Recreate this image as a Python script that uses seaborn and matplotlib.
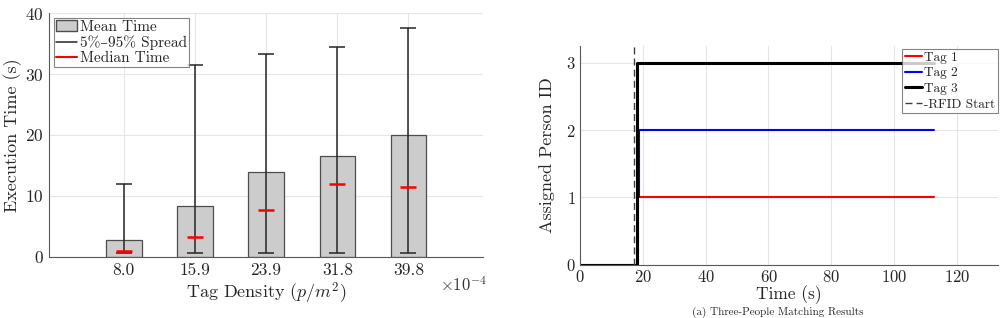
import numpy as np
import pandas as pd
import seaborn as sns
from matplotlib import pyplot as plt
from matplotlib.patches import Patch
from matplotlib.lines import Line2D

# left chart: execution time vs tag density
densities = ["8.0", "15.9", "23.9", "31.8", "39.8"]
mean_time = [2.8, 8.4, 14.0, 16.6, 20.0]
p5_time = [0.6, 0.7, 0.7, 0.7, 0.7]
p95_time = [11.9, 31.4, 33.3, 34.4, 37.5]
median_time = [1.0, 3.3, 7.7, 12.0, 11.4]

# right chart: assigned person id over time
tag1_t = [0, 18.5, 18.5, 112.7]
tag1_id = [0, 0, 1, 1]
tag2_t = [18.7, 18.7, 112.7]
tag2_id = [1, 2, 2]
tag3_t = [0, 18.2, 18.2, 112.7]
tag3_id = [0, 0, 3, 3]
rfid_start = 17.1

sns.set_theme(style="whitegrid")
plt.rcParams['font.family'] = ['cmr10', 'DejaVu Serif']
plt.rcParams['mathtext.fontset'] = 'cm'
plt.rcParams['axes.formatter.use_mathtext'] = True
plt.rcParams['axes.unicode_minus'] = False

grid_kw = dict(color='0.9', linewidth=0.8)
spine_col = '0.35'

fig = plt.figure(figsize=(10.05, 3.18), dpi=100)
ax1 = fig.add_axes([0.0488, 0.192, 0.432, 0.767])
ax2 = fig.add_axes([0.577, 0.167, 0.416, 0.689])

df = pd.DataFrame({'density': densities, 'mean': mean_time})
sns.barplot(data=df, x='density', y='mean', ax=ax1, color='0.8', width=0.5,
            edgecolor='0.3', linewidth=0.9, saturation=1, zorder=2)
xs = np.arange(len(densities))
low = np.array(mean_time) - np.array(p5_time)
high = np.array(p95_time) - np.array(mean_time)
ax1.errorbar(xs, mean_time, yerr=[low, high], fmt='none', ecolor='0.15',
             elinewidth=1.1, capsize=5.5, capthick=1.1, zorder=3)
ax1.plot(xs, median_time, linestyle='none', marker='_', markersize=11,
         markeredgewidth=1.8, color='red', zorder=4)
ax1.set_xlim(-1.05, 5.05)
ax1.set_ylim(0, 40)
ax1.set_yticks([0, 10, 20, 30, 40])
ax1.set_xlabel(r'Tag Density ($p/m^2$)', fontsize=13, labelpad=2)
ax1.set_ylabel('Execution Time (s)', fontsize=13, labelpad=2)
ax1.grid(True, **grid_kw)
ax1.set_axisbelow(True)
for s in ['top', 'right']:
    ax1.spines[s].set_visible(False)
for s in ['left', 'bottom']:
    ax1.spines[s].set_color(spine_col)
    ax1.spines[s].set_linewidth(0.8)
ax1.tick_params(labelsize=12.5, direction='in', length=3, color=spine_col, pad=4)
fig.text(0.438, 0.085, r'$\times10^{-4}$', fontsize=12, color='0.2')

handles = [Patch(facecolor='0.8', edgecolor='0.3'),
           Line2D([], [], color='0.15', lw=1.1),
           Line2D([], [], color='red', lw=1.5)]
leg = ax1.legend(handles, ['Mean Time', '5%–95% Spread', 'Median Time'],
                 loc='upper left', fontsize=11, frameon=True, fancybox=False,
                 edgecolor='0.4', handlelength=1.4, handletextpad=0.15,
                 borderpad=0.15, labelspacing=0.1, borderaxespad=0.3)
leg.get_frame().set_linewidth(0.8)

sns.lineplot(x=tag1_t, y=tag1_id, sort=False, estimator=None, ax=ax2,
             color='red', linewidth=1.5, label='Tag 1')
sns.lineplot(x=tag2_t, y=tag2_id, sort=False, estimator=None, ax=ax2,
             color='blue', linewidth=1.5, label='Tag 2')
sns.lineplot(x=tag3_t, y=tag3_id, sort=False, estimator=None, ax=ax2,
             color='black', linewidth=2.2, label='Tag 3')
ax2.axvline(rfid_start, color='0.25', linestyle=(0, (5, 3)), linewidth=1.0,
            label='-RFID Start')
ax2.set_xlim(0, 133)
ax2.set_ylim(0, 3.25)
ax2.set_xticks([0, 20, 40, 60, 80, 100, 120])
ax2.set_yticks([0, 1, 2, 3])
ax2.set_xlabel('Time (s)', fontsize=12.5, labelpad=0)
ax2.set_ylabel('Assigned Person ID', fontsize=13, labelpad=8)
ax2.grid(True, **grid_kw)
ax2.set_axisbelow(True)
for s in ['top', 'right']:
    ax2.spines[s].set_visible(False)
for s in ['left', 'bottom']:
    ax2.spines[s].set_color(spine_col)
    ax2.spines[s].set_linewidth(0.8)
ax2.tick_params(labelsize=12, direction='in', length=3, color=spine_col, pad=3)
leg2 = ax2.legend(loc='upper right', fontsize=9.5, frameon=True, fancybox=False,
                  edgecolor='0.4', handlelength=1.3, handletextpad=0.15,
                  borderpad=0.2, labelspacing=0.25, borderaxespad=0.0,
                  bbox_to_anchor=(1.0, 0.985))
leg2.get_frame().set_linewidth(0.8)

fig.text(0.774, 0.0, '(a) Three-People Matching Results', fontsize=8,
         ha='center', va='bottom')

fig.savefig('out.png', dpi=100)
